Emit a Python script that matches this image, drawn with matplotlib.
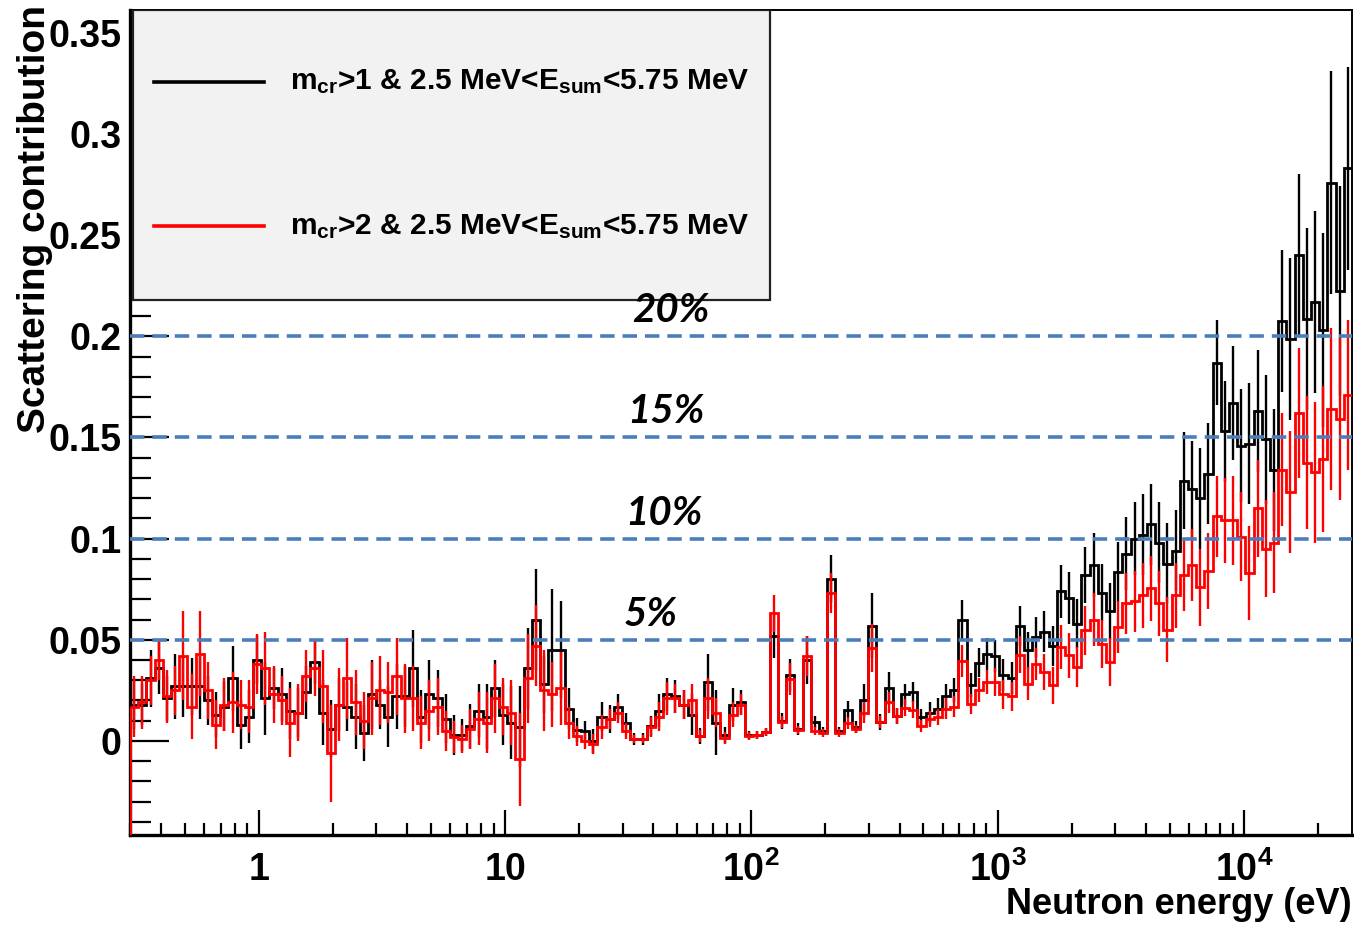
import matplotlib
matplotlib.use("Agg")
import matplotlib.pyplot as plt
import numpy as np
from matplotlib.patches import Rectangle
from matplotlib.ticker import FixedLocator, FixedFormatter

plt.rcParams['font.family'] = ['Liberation Sans', 'DejaVu Sans']
plt.rcParams['font.weight'] = 'bold'
plt.rcParams['mathtext.fontset'] = 'custom'
plt.rcParams['mathtext.rm'] = 'Liberation Sans:bold'
plt.rcParams['mathtext.it'] = 'Liberation Sans:bold'
plt.rcParams['mathtext.bf'] = 'Liberation Sans:bold'

# energy range of the log-binned histograms (eV)
e_min, e_max, n_bins = 0.3, 27500.0, 149

# scattering contribution, m_cr>1
mcr1 = [
    0.018, 0.018, 0.031, 0.036, 0.021, 0.027, 0.027, 0.027, 0.027, 0.020, 0.013, 0.017, 0.031,
    0.008, 0.012, 0.040, 0.021, 0.026, 0.023, 0.015, 0.014, 0.024, 0.039, 0.014, 0.006,
    0.018, 0.017, 0.012, 0.004, 0.023, 0.018, 0.012, 0.022, 0.022, 0.036, 0.012, 0.023,
    0.021, 0.011, 0.003, 0.003, 0.0075, 0.015, 0.012, 0.026, 0.013, 0.009, 0.007, 0.036,
    0.060, 0.028, 0.045, 0.045, 0.016, 0.0055, 0.005, 0.000, 0.012, 0.011, 0.017, 0.009,
    0.001, 0.001, 0.0075, 0.015, 0.023, 0.022, 0.018, 0.013, 0.0025, 0.029, 0.009, 0.003, 0.018,
    0.019, 0.003, 0.003, 0.0045, 0.052, 0.010, 0.0325, 0.006, 0.040, 0.0095, 0.005, 0.080,
    0.005, 0.0155, 0.007, 0.020, 0.057, 0.0095, 0.026, 0.0125, 0.023, 0.024, 0.012, 0.014,
    0.016, 0.022, 0.025, 0.0596, 0.0275, 0.0387, 0.043, 0.042, 0.0325, 0.031, 0.0568, 0.0448,
    0.0514, 0.054, 0.047, 0.074, 0.0707, 0.058, 0.082, 0.087, 0.0733, 0.064, 0.0835, 0.0926,
    0.100, 0.102, 0.107, 0.098, 0.0876, 0.094, 0.1286, 0.1245, 0.120, 0.132, 0.187, 0.153,
    0.167, 0.146, 0.147, 0.163, 0.149, 0.134, 0.2075, 0.1985, 0.240, 0.2085, 0.217, 0.203,
    0.276, 0.2225, 0.283,
]
mcr1_err = [
    0.012, 0.010, 0.014, 0.013, 0.011, 0.016, 0.015, 0.014, 0.016, 0.012, 0.011, 0.012, 0.016,
    0.012, 0.013, 0.012, 0.018, 0.010, 0.013, 0.014, 0.012, 0.013, 0.011, 0.016, 0.014,
    0.013, 0.012, 0.016, 0.014, 0.017, 0.012, 0.015, 0.016, 0.015, 0.019, 0.013, 0.017,
    0.014, 0.012, 0.010, 0.008, 0.011, 0.013, 0.016, 0.014, 0.015, 0.018, 0.020, 0.020,
    0.025, 0.014, 0.030, 0.024, 0.010, 0.006, 0.005, 0.006, 0.007, 0.007, 0.006, 0.005,
    0.003, 0.003, 0.005, 0.008, 0.008, 0.008, 0.007, 0.010, 0.004, 0.014, 0.016, 0.004, 0.008,
    0.006, 0.002, 0.002, 0.002, 0.011, 0.004, 0.008, 0.003, 0.012, 0.003, 0.002, 0.012,
    0.002, 0.004, 0.003, 0.008, 0.016, 0.004, 0.008, 0.004, 0.005, 0.005, 0.004, 0.005,
    0.005, 0.006, 0.006, 0.010, 0.006, 0.007, 0.008, 0.008, 0.008, 0.008, 0.010, 0.009,
    0.010, 0.010, 0.010, 0.013, 0.013, 0.012, 0.014, 0.016, 0.014, 0.014, 0.015, 0.018,
    0.018, 0.020, 0.020, 0.020, 0.020, 0.020, 0.024, 0.024, 0.025, 0.025, 0.021, 0.025,
    0.028, 0.028, 0.030, 0.030, 0.032, 0.030, 0.035, 0.040, 0.040, 0.045, 0.045, 0.048,
    0.055, 0.052, 0.050,
]

# scattering contribution, m_cr>2
mcr2 = [
    0.017, 0.019, 0.030, 0.040, 0.022, 0.025, 0.042, 0.017, 0.043, 0.025, 0.008, 0.018, 0.019,
    0.018, 0.017, 0.038, 0.036, 0.023, 0.020, 0.009, 0.014, 0.032, 0.036, 0.027, -0.006,
    0.018, 0.031, 0.019, 0.010, 0.021, 0.025, 0.024, 0.032, 0.021, 0.021, 0.009, 0.015,
    0.017, 0.005, 0.002, 0.001, 0.006, 0.011, 0.009, 0.021, 0.017, 0.014, -0.009, 0.031,
    0.047, 0.025, 0.023, 0.026, 0.009, 0.0025, 0.000, -0.0015, 0.007, 0.011, 0.014, 0.005,
    0.001, 0.001, 0.007, 0.012, 0.021, 0.021, 0.018, 0.020, 0.0025, 0.021, 0.014, 0.0015, 0.013,
    0.018, 0.0025, 0.003, 0.0045, 0.063, 0.0095, 0.0305, 0.0055, 0.042, 0.005, 0.004, 0.073,
    0.004, 0.009, 0.006, 0.014, 0.046, 0.0095, 0.019, 0.0125, 0.0165, 0.0155, 0.0075, 0.011,
    0.012, 0.016, 0.017, 0.0394, 0.0184, 0.025, 0.029, 0.029, 0.023, 0.022, 0.0427, 0.0283,
    0.038, 0.034, 0.0275, 0.0464, 0.0423, 0.0366, 0.0547, 0.060, 0.048, 0.039, 0.0563, 0.068,
    0.069, 0.072, 0.0755, 0.068, 0.055, 0.072, 0.082, 0.087, 0.076, 0.084, 0.111, 0.109,
    0.109, 0.101, 0.083, 0.115, 0.095, 0.098, 0.134, 0.123, 0.162, 0.1376, 0.1327, 0.1395,
    0.164, 0.159, 0.171,
]
mcr2_err = [
    0.015, 0.013, 0.012, 0.010, 0.013, 0.012, 0.022, 0.016, 0.021, 0.014, 0.012, 0.013, 0.015,
    0.012, 0.013, 0.015, 0.018, 0.014, 0.012, 0.017, 0.014, 0.013, 0.014, 0.018, 0.024,
    0.018, 0.020, 0.016, 0.014, 0.018, 0.017, 0.015, 0.019, 0.017, 0.016, 0.013, 0.015,
    0.014, 0.010, 0.008, 0.007, 0.010, 0.013, 0.015, 0.017, 0.014, 0.016, 0.023, 0.022,
    0.020, 0.020, 0.016, 0.018, 0.008, 0.005, 0.004, 0.005, 0.006, 0.005, 0.005, 0.004,
    0.002, 0.002, 0.005, 0.007, 0.008, 0.007, 0.007, 0.008, 0.003, 0.010, 0.007, 0.003, 0.006,
    0.005, 0.002, 0.002, 0.002, 0.009, 0.003, 0.008, 0.002, 0.010, 0.002, 0.002, 0.010,
    0.002, 0.003, 0.002, 0.005, 0.012, 0.003, 0.005, 0.004, 0.004, 0.004, 0.003, 0.004,
    0.004, 0.005, 0.005, 0.008, 0.005, 0.006, 0.006, 0.007, 0.007, 0.007, 0.009, 0.008,
    0.008, 0.009, 0.009, 0.011, 0.011, 0.010, 0.012, 0.013, 0.012, 0.012, 0.013, 0.015,
    0.015, 0.016, 0.016, 0.016, 0.016, 0.016, 0.018, 0.018, 0.019, 0.019, 0.020, 0.021,
    0.022, 0.022, 0.023, 0.024, 0.024, 0.025, 0.028, 0.030, 0.032, 0.033, 0.035, 0.036,
    0.040, 0.040, 0.037,
]

levels = [0.05, 0.10, 0.15, 0.20]
level_labels = ["5%", "10%", "15%", "20%"]
level_label_x = [39.0, 44.0, 45.0, 47.0]

legend_labels = [
    r"m$_{\mathbf{cr}}$>1 & 2.5 MeV<E$_{\mathbf{sum}}$<5.75 MeV",
    r"m$_{\mathbf{cr}}$>2 & 2.5 MeV<E$_{\mathbf{sum}}$<5.75 MeV",
]

edges = np.logspace(np.log10(e_min), np.log10(e_max), n_bins + 1)
centers = np.sqrt(edges[:-1] * edges[1:])
y_lo, y_hi = -0.0465, 0.3613

fig = plt.figure(figsize=(13.54, 9.26), dpi=100)
ax = fig.add_axes([130 / 1354, 91 / 926, 1222 / 1354, 825 / 926])
ax.set_xscale('log')
ax.set_xlim(e_min, e_max)
ax.set_ylim(y_lo, y_hi)

# histograms with error bars (black first, red drawn on top)
for vals, errs, col in [(mcr1, mcr1_err, 'black'), (mcr2, mcr2_err, 'red')]:
    v = np.array(vals)
    e = np.array(errs)
    ax.vlines(centers, v - e, v + e, color=col, lw=1.7, zorder=3)
    ax.stairs(v, edges, color=col, lw=2.0, baseline=None, zorder=3)
# red curve enters from below the frame at the first edge
ax.vlines(edges[0], y_lo, mcr2[0], color='red', lw=2.2, zorder=3)

# reference levels; labels sit above the legend box
for lv, lab, lx in zip(levels, level_labels, level_label_x):
    ax.axhline(lv, color='#4a7ebb', lw=2.6, ls=(0, (4, 2.2)), zorder=4)
    ax.text(lx, lv + 0.0035, lab, ha='center', va='bottom', fontsize=29,
            fontstyle='italic', fontweight='bold', family=['Lato', 'DejaVu Sans'],
            zorder=8)

# axes in ROOT style: ticks inside, long major ticks
ax.yaxis.set_major_locator(FixedLocator([0, 0.05, 0.10, 0.15, 0.20, 0.25, 0.30, 0.35]))
ax.yaxis.set_major_formatter(FixedFormatter(['0', '0.05', '0.1', '0.15', '0.2', '0.25', '0.3', '0.35']))
ax.yaxis.set_minor_locator(FixedLocator(np.arange(-0.04, 0.361, 0.01)))
dec = [1, 10, 100, 1000, 10000]
ax.xaxis.set_major_locator(FixedLocator(dec))
ax.xaxis.set_major_formatter(FixedFormatter(['1', '10', r'$10^{2}$', r'$10^{3}$', r'$10^{4}$']))
minors = [m * d for d in [0.1, 1, 10, 100, 1000, 10000] for m in range(2, 10)]
ax.xaxis.set_minor_locator(FixedLocator([m for m in minors if e_min <= m <= e_max]))
ax.xaxis.set_minor_formatter(FixedFormatter([]))

ax.tick_params(axis='y', which='major', direction='in', length=28, width=1.6,
               labelsize=27, pad=6)
ax.tick_params(axis='y', which='minor', direction='in', length=15, width=1.6)
ax.tick_params(axis='x', which='major', direction='in', length=18, width=1.6,
               labelsize=27, pad=12)
ax.tick_params(axis='x', which='minor', direction='in', length=9, width=1.6)
for lab in ax.get_xticklabels() + ax.get_yticklabels():
    lab.set_fontweight('bold')

for side in ['left', 'bottom']:
    ax.spines[side].set_linewidth(2.4)
for side in ['top', 'right']:
    ax.spines[side].set_linewidth(1.4)

# legend box
ax.add_patch(Rectangle((0.0025, 0.648), 0.5215, 0.352, transform=ax.transAxes,
                       facecolor='#f2f2f2', edgecolor='#222222', lw=1.6, zorder=6))
for yl, col, lab in [(0.913, 'black', legend_labels[0]), (0.738, 'red', legend_labels[1])]:
    ax.plot([0.020, 0.110], [yl, yl], color=col, lw=2.6, transform=ax.transAxes, zorder=7)
    ax.text(0.131, yl, lab, transform=ax.transAxes, ha='left', va='center',
            fontsize=21.5, fontweight='bold', zorder=7)

fig.text(0.998, 0.013, "Neutron energy (eV)", ha='right', va='baseline',
         fontsize=26, fontweight='bold')
fig.text(0.026, 0.995, "Scattering contribution", ha='center', va='top',
         rotation=90, fontsize=28, fontweight='bold')

fig.savefig('out.png', dpi=100)
